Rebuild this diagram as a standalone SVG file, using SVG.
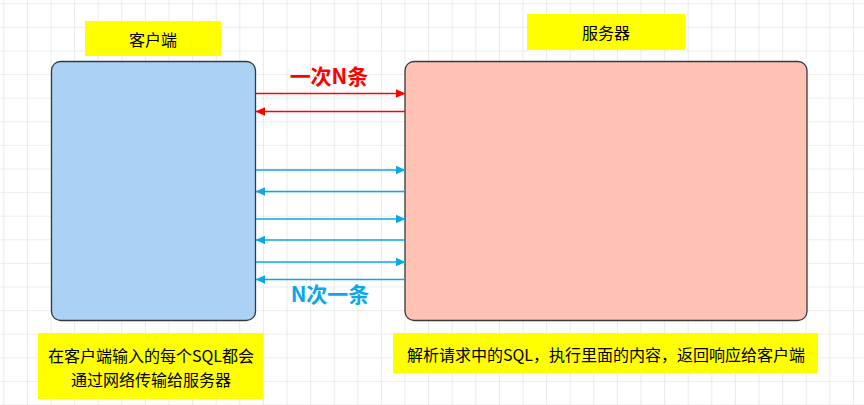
<svg xmlns="http://www.w3.org/2000/svg" width="864" height="405" viewBox="0 0 864 405">
<style>
.lbl{font-family:"Noto Sans CJK SC","Liberation Sans",sans-serif;font-size:16px;fill:#000;text-anchor:middle;dominant-baseline:central}
.big{font-family:"Noto Sans CJK SC","Liberation Sans",sans-serif;font-size:21px;font-weight:bold;text-anchor:middle;dominant-baseline:central}
.yel{fill:#FFFF00}
.red{stroke:#FF0000;stroke-width:1.3;fill:none}
.blue{stroke:#0AA8E8;stroke-width:1.3;fill:none}
</style>
<defs>
<pattern id="grid" x="3.3" y="3.3" width="23.6" height="23.6" patternUnits="userSpaceOnUse">
<path d="M0 0H23.6M0 0V23.6" stroke="#DCDCDC" stroke-width="1.2" fill="none"/>
</pattern>
<marker id="ar" markerWidth="10" markerHeight="10" refX="9" refY="5" orient="auto" markerUnits="userSpaceOnUse">
<path d="M0 0.8L9.5 5L0 9.2Z" fill="#FF0000"/>
</marker>
<marker id="ab" markerWidth="10" markerHeight="10" refX="9" refY="5" orient="auto" markerUnits="userSpaceOnUse">
<path d="M0 0.8L9.5 5L0 9.2Z" fill="#0AA8E8"/>
</marker>
</defs>
<rect width="864" height="405" fill="#FFFFFF"/>
<rect width="864" height="405" fill="url(#grid)"/>
<g id="client">
<rect x="51.5" y="61.5" width="204" height="259" rx="9" fill="#ABD2F5" stroke="#36393D" stroke-width="1.3"/>
</g>
<g id="server">
<rect x="405" y="61.5" width="402" height="259" rx="9" fill="#FFC2B3" stroke="#36393D" stroke-width="1.3"/>
</g>
<g id="label-client">
<rect class="yel" x="85" y="21" width="136" height="35"/>
<text class="lbl" x="153" y="39">客户端</text>
</g>
<g id="label-server">
<rect class="yel" x="527" y="14" width="158" height="36"/>
<text class="lbl" x="606" y="32">服务器</text>
</g>
<g id="note-client">
<rect class="yel" x="38" y="333" width="225" height="66"/>
<text class="lbl" x="151" y="355">在客户端输入的每个SQL都会</text>
<text class="lbl" x="151" y="379">通过网络传输给服务器</text>
</g>
<g id="note-server">
<rect class="yel" x="393" y="333" width="425" height="40"/>
<text class="lbl" x="606" y="354">解析请求中的SQL，执行里面的内容，返回响应给客户端</text>
</g>
<g id="connectors">
<line class="red" x1="256" y1="93.5" x2="405" y2="93.5" marker-end="url(#ar)"/>
<line class="red" x1="405" y1="111.5" x2="256" y2="111.5" marker-end="url(#ar)"/>
<line class="blue" x1="256" y1="170" x2="405" y2="170" marker-end="url(#ab)"/>
<line class="blue" x1="405" y1="191.5" x2="256" y2="191.5" marker-end="url(#ab)"/>
<line class="blue" x1="256" y1="219" x2="405" y2="219" marker-end="url(#ab)"/>
<line class="blue" x1="405" y1="240" x2="256" y2="240" marker-end="url(#ab)"/>
<line class="blue" x1="256" y1="262" x2="405" y2="262" marker-end="url(#ab)"/>
<line class="blue" x1="405" y1="279.5" x2="256" y2="279.5" marker-end="url(#ab)"/>
</g>
<g id="label-red">
<text class="big" x="329" y="75" fill="#FF0000">一次N条</text>
</g>
<g id="label-blue">
<text class="big" x="330" y="293" fill="#0AA8E8">N次一条</text>
</g>
</svg>
